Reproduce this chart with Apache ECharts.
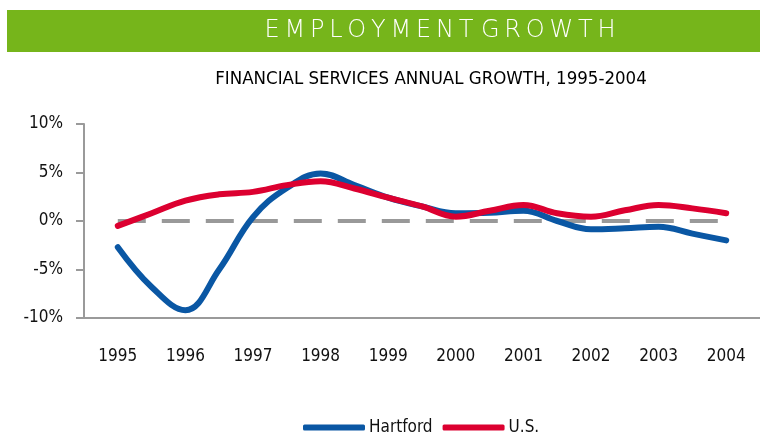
<!DOCTYPE html>
<html>
<head>
<meta charset="utf-8">
<script src="https://cdn.jsdelivr.net/npm/echarts@6/dist/echarts.min.js"></script>
<style>
  html, body { margin: 0; padding: 0; background: #fff; }
  #chart { width: 760px; height: 437px; }
</style>
</head>
<body>
<div id="chart"></div>
<script>
const years = ["1995", "1996", "1997", "1998", "1999", "2000", "2001", "2002", "2003", "2004"];
const periods = [1995, 1995.5, 1996, 1996.5, 1997, 1997.5, 1998, 1998.5, 1999, 1999.5,
  2000, 2000.5, 2001, 2001.5, 2002, 2002.5, 2003, 2003.5, 2004];
const hartford = [-2.7, -6.8, -9.2, -5.0, 0.4, 3.4, 4.9, 3.7, 2.4, 1.5,
  0.8, 0.85, 1.05, 0.0, -0.85, -0.75, -0.6, -1.3, -2.0];
const us = [-0.5, 0.8, 2.1, 2.75, 3.0, 3.7, 4.1, 3.35, 2.4, 1.5,
  0.45, 1.05, 1.65, 0.8, 0.45, 1.1, 1.65, 1.3, 0.8];
const zeroLine = [0, 0, 0, 0, 0, 0, 0, 0, 0, 0];
const yTicks = { min: -10, max: 10, interval: 5 };

const FONT = "'Liberation Sans Narrow', 'DejaVu Sans Condensed', sans-serif";
const AXIS_GREY = "#9a9a9a";
const BLUE = "#0a57a4";
const RED = "#dc0030";

const pairs = (vals) => vals.map((v, i) => [periods[i], v]);

const chart = echarts.init(document.getElementById("chart"), null, { renderer: "canvas" });

chart.setOption({
  animation: false,
  backgroundColor: "#fff",
  graphic: [
    {
      type: "rect", left: 7, top: 10, z: 0,
      shape: { width: 753, height: 42 },
      style: { fill: "#76b51b" },
    },
    {
      type: "text", x: 440, y: 31, z: 1,
      style: {
        text: "E\u2009M\u2009P\u2009L\u2009O\u2009Y\u2009M\u2009E\u2009N\u2009T G\u2009R\u2009O\u2009W\u2009T\u2009H",
        fill: "#fff", font: "200 24px 'DejaVu Sans', sans-serif",
        align: "center", verticalAlign: "middle",
      },
    },
    {
      type: "text", x: 431, y: 79, z: 1,
      style: {
        text: "FINANCIAL SERVICES ANNUAL GROWTH, 1995-2004",
        fill: "#000", font: "18.5px " + FONT,
        align: "center", verticalAlign: "middle",
      },
    },
  ],
  grid: { left: 84, right: 0, top: 124, height: 194, containLabel: false },
  legend: {
    data: ["Hartford", "U.S."],
    left: 298, top: 414,
    itemWidth: 62, itemHeight: 6, itemGap: 10,
    icon: "roundRect",
    textStyle: { color: "#111", fontSize: 17, fontFamily: FONT, padding: [0, 0, 0, -1] },
  },
  xAxis: [
    {
      type: "category", data: years, boundaryGap: true,
      axisLine: { onZero: false, lineStyle: { color: AXIS_GREY, width: 2 } },
      axisTick: { length: 8, lineStyle: { color: AXIS_GREY, width: 2 } },
      axisLabel: { color: "#111", fontSize: 17, fontFamily: FONT, margin: 30 },
      splitLine: { show: false },
    },
    {
      type: "value", min: 1994.5, max: 2004.5, show: false,
    },
  ],
  yAxis: {
    type: "value", min: yTicks.min, max: yTicks.max, interval: yTicks.interval,
    axisLine: { show: true, lineStyle: { color: AXIS_GREY, width: 2 } },
    axisTick: { show: true, length: 8, lineStyle: { color: AXIS_GREY, width: 2 } },
    axisLabel: {
      color: "#111", fontSize: 17, fontFamily: FONT, margin: 21,
      formatter: (v) => v + "%",
    },
    splitLine: { show: false },
  },
  series: [
    {
      name: "zero", type: "line", xAxisIndex: 0, data: zeroLine,
      showSymbol: false, silent: true, z: 1,
      lineStyle: { color: "#999", width: 4, type: [28, 16] },
    },
    {
      name: "Hartford", type: "line", xAxisIndex: 1, data: pairs(hartford),
      smooth: 0.4, showSymbol: false, z: 2,
      itemStyle: { color: BLUE },
      lineStyle: { color: BLUE, width: 6, cap: "round" },
    },
    {
      name: "U.S.", type: "line", xAxisIndex: 1, data: pairs(us),
      smooth: 0.4, showSymbol: false, z: 3,
      itemStyle: { color: RED },
      lineStyle: { color: RED, width: 6, cap: "round" },
    },
  ],
});
</script>
</body>
</html>
